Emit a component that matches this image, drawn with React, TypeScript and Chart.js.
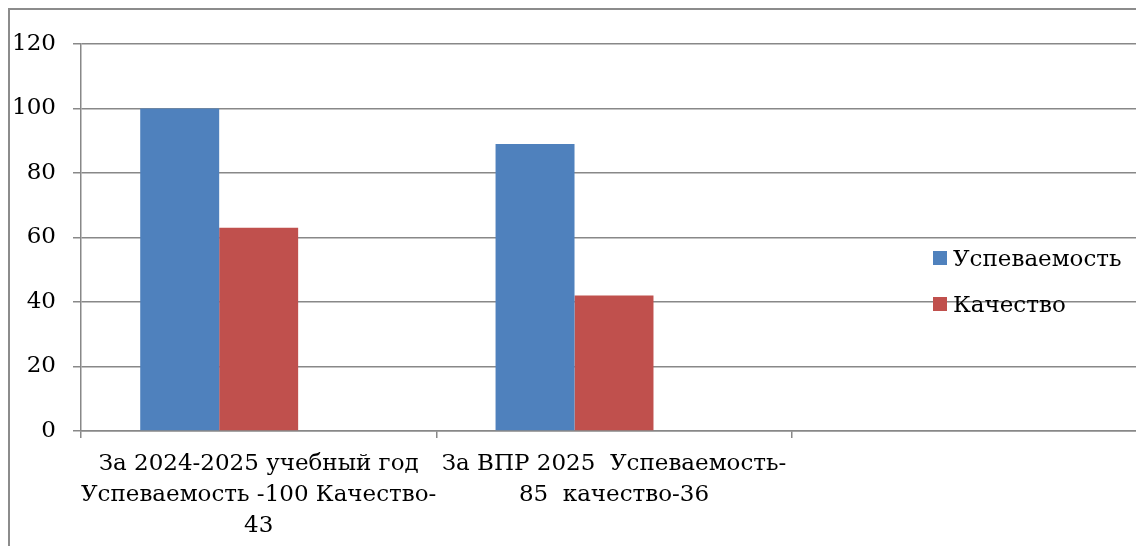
import React, { useEffect, useRef } from 'react';
import { Chart, registerables } from 'chart.js';

Chart.register(...registerables);

const categories: (string | string[])[] = [
  ['За 2024-2025 учебный год', 'Успеваемость -100 Качество-', '43'],
  ['За ВПР 2025  Успеваемость-', '85  качество-36'],
  '',
];
const seriesNames = ['Успеваемость', 'Качество'];
const progressValues = [100, 89, null];
const qualityValues = [63, 42, null];
const emptySeriesValues = [null, null, null];
const seriesColors = ['#4F81BD', '#C0504D', '#9BBB59'];
const yMin = 0;
const yMax = 120;
const yStep = 20;

const FONT = "'DejaVu Serif', serif";
const GRID = '#888888';

export default function App() {
  const ref = useRef<HTMLCanvasElement | null>(null);

  useEffect(() => {
    if (!ref.current) return;
    const chart = new Chart(ref.current, {
      type: 'bar',
      data: {
        labels: categories,
        datasets: [
          { label: seriesNames[0], data: progressValues, backgroundColor: seriesColors[0], borderWidth: 0 },
          { label: seriesNames[1], data: qualityValues, backgroundColor: seriesColors[1], borderWidth: 0 },
          { label: '', data: emptySeriesValues, backgroundColor: seriesColors[2], borderWidth: 0 },
        ],
      },
      options: {
        responsive: false,
        animation: false,
        layout: { padding: { top: 33, left: 0, right: 3, bottom: 0 } },
        plugins: { legend: { display: false }, tooltip: { enabled: false } },
        datasets: { bar: { categoryPercentage: 0.6667, barPercentage: 1 } },
        scales: {
          x: {
            afterFit: (s: any) => { s.height = 140; },
            grid: { drawOnChartArea: false, drawTicks: true, tickLength: 7, color: GRID, lineWidth: 1.5 },
            border: { display: true, color: GRID, width: 1.5 },
            ticks: { color: '#000', font: { family: FONT, size: 23, lineHeight: '31px' as any }, padding: 11, maxRotation: 0, autoSkip: false },
          },
          y: {
            min: yMin,
            max: yMax,
            afterFit: (s: any) => { s.width = 71; },
            grid: { color: GRID, lineWidth: 1.5, tickLength: 8, drawTicks: true },
            border: { display: true, color: GRID, width: 1.5 },
            ticks: { stepSize: yStep, color: '#000', font: { family: FONT, size: 23 }, padding: 17 },
          },
        },
      },
    });
    return () => chart.destroy();
  }, []);

  return (
    <div style={{ position: 'fixed', left: 0, top: 0, width: 1136, height: 546, overflow: 'hidden', background: '#fff' }}>
      <div style={{ position: 'absolute', left: 8, top: 8, width: 1300, height: 700, border: '2px solid #8c8c8c' }}>
        <div style={{ position: 'absolute', left: 0, top: 1, width: 1140, height: 560 }}>
          <canvas ref={ref} width={1140} height={560} style={{ width: 1140, height: 560, display: 'block' }} />
        </div>
        {seriesNames.map((name, i) => (
          <div key={name} style={{ position: 'absolute', left: 923, top: 241 + i * 46, height: 14, display: 'flex', alignItems: 'center', fontFamily: FONT, fontSize: 23, color: '#000', whiteSpace: 'nowrap' }}>
            <span style={{ width: 14, height: 14, background: seriesColors[i], display: 'inline-block', marginRight: 6, flex: 'none' }} />
            <span style={{ lineHeight: '14px' }}>{name}</span>
          </div>
        ))}
      </div>
    </div>
  );
}
